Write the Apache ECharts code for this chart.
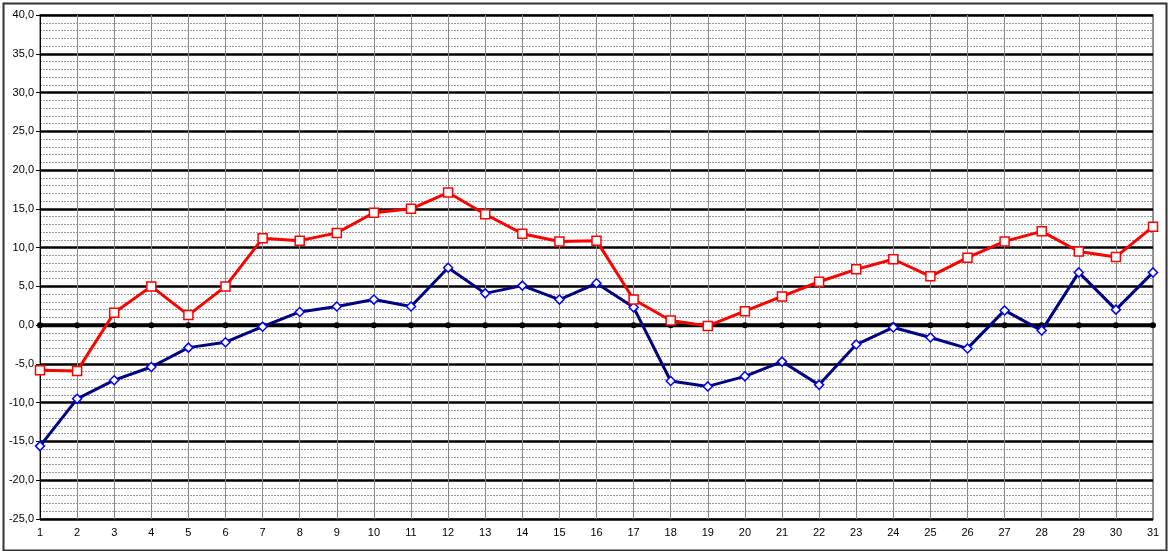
<!DOCTYPE html>
<html><head><meta charset="utf-8">
<script src="https://cdn.jsdelivr.net/npm/echarts@6/dist/echarts.min.js"></script>
<style>html,body{margin:0;padding:0;background:#fff;}#c{width:1169px;height:551px;}</style>
</head><body><div id="c"></div>
<script>
const categories = ['1','2','3','4','5','6','7','8','9','10','11','12','13','14','15','16','17','18','19','20','21','22','23','24','25','26','27','28','29','30','31'];
const redValues = [-5.8,-5.9,1.6,5.0,1.3,5.0,11.2,10.9,11.9,14.5,15.0,17.1,14.3,11.8,10.8,10.9,3.3,0.6,-0.1,1.8,3.7,5.6,7.2,8.5,6.3,8.7,10.8,12.1,9.5,8.8,12.7];
const blueValues = [-15.6,-9.5,-7.1,-5.4,-2.9,-2.2,-0.2,1.7,2.4,3.3,2.4,7.4,4.1,5.1,3.3,5.4,2.3,-7.2,-7.9,-6.6,-4.7,-7.7,-2.5,-0.3,-1.6,-3.0,1.9,-0.7,6.8,2.0,6.8];
const zeroValues = categories.map(() => 0);
const yMin = -25, yMax = 40, yStep = 5;

const chart = echarts.init(document.getElementById('c'));
chart.setOption({
  animation: false,
  graphic: [{
    type: 'rect', left: 1, top: 1, z: -10,
    shape: {width: 1163, height: 547},
    style: {fill: 'none', stroke: '#333', lineWidth: 2}
  }],
  grid: {left: 40, right: 16, top: 15, bottom: 32, show: true, borderColor: '#999', borderWidth: 2},
  xAxis: {
    type: 'category', data: categories, boundaryGap: false,
    axisLine: {show: true, lineStyle: {color: '#777', width: 2}},
    axisTick: {show: false},
    axisLabel: {color: '#000', fontFamily: 'Liberation Sans', fontSize: 11, margin: 8},
    splitLine: {show: true, lineStyle: {color: '#888', width: 1}}
  },
  yAxis: {
    type: 'value', min: yMin, max: yMax, interval: yStep,
    axisLine: {show: true, lineStyle: {color: '#000', width: 1}},
    axisTick: {show: true, length: 4, lineStyle: {color: '#000'}},
    axisLabel: {color: '#000', fontFamily: 'Liberation Sans', fontSize: 11, margin: 6,
      formatter: v => v.toFixed(1).replace('.', ',')},
    splitLine: {show: true, lineStyle: {color: '#000', width: 2.5}},
    minorTick: {show: false, splitNumber: 5},
    minorSplitLine: {show: true, lineStyle: {color: '#999', width: 1, type: [2, 1]}}
  },
  series: [
    {name: 'zero', type: 'line', data: zeroValues, symbol: 'circle', symbolSize: 6,
      lineStyle: {color: '#000', width: 4}, itemStyle: {color: '#000'}, z: 1},
    {name: 'max', type: 'line', data: redValues, symbol: 'rect', symbolSize: 9,
      lineStyle: {color: '#ff0000', width: 3},
      itemStyle: {color: '#fff', borderColor: '#ff0000', borderWidth: 1.5}, z: 3},
    {name: 'min', type: 'line', data: blueValues, symbol: 'diamond', symbolSize: 9,
      lineStyle: {color: '#000080', width: 3},
      itemStyle: {color: '#fff', borderColor: '#0000ff', borderWidth: 1.5}, z: 2}
  ]
});
</script></body></html>
